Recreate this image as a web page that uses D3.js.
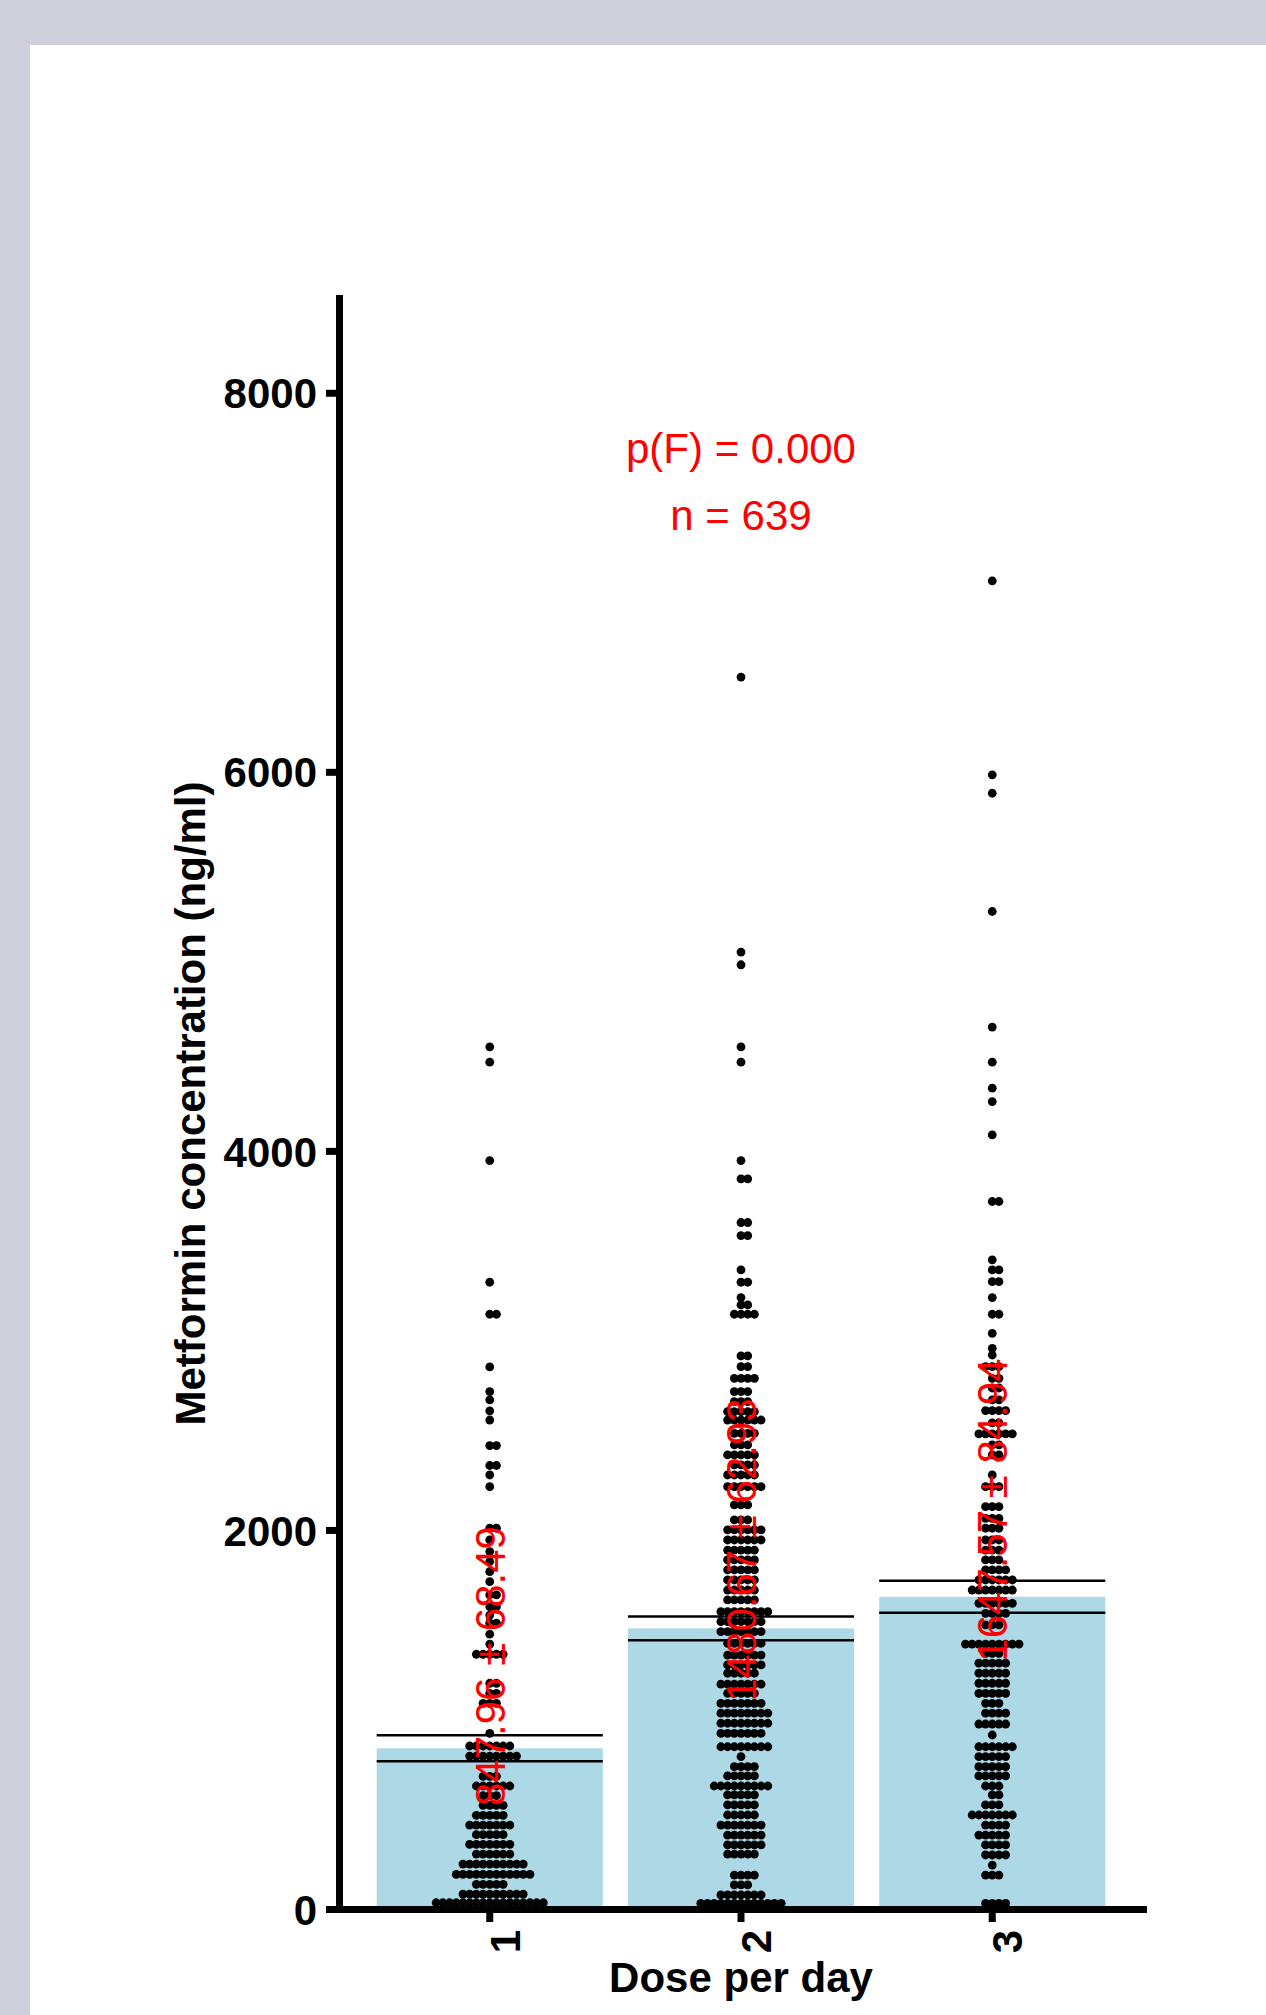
<!DOCTYPE html>
<html>
<head>
<meta charset="utf-8">
<script src="https://cdn.jsdelivr.net/npm/d3@7"></script>
<style>
	html, body { margin: 0; padding: 0; background: #cecfdb; overflow: hidden; }
	#wrapper { position: absolute; left: 30px; top: 45px; width: 1236px; height: 1970px; background: #fff; }
	svg text { font-family: "Liberation Sans", Arial, sans-serif; }
</style>
</head>
<body>
<div id="wrapper"></div>
<script>
const doses = [ '1', '2', '3' ];
const means = [ 847.96, 1480.67, 1647.57 ];
const errors = [ 68.49, 62.93, 84.94 ];
const labelValues = [ 1282, 1894, 2105 ];
const yTicks = [ 0, 2000, 4000, 6000, 8000 ];
const statLines = [ 'p(F) = 0.000', 'n = 639' ];

// dot rows: [concentration, number of dots in the row]
const dose1Dots = [
	[ 4549, 1 ], [ 4468, 1 ], [ 3949, 1 ], [ 3307, 1 ], [ 3138, 2 ], [ 2860, 1 ], [ 2730, 1 ], [ 2686, 1 ],
	[ 2628, 1 ], [ 2580, 1 ], [ 2445, 2 ], [ 2340, 2 ], [ 2290, 1 ], [ 2228, 1 ], [ 2009, 2 ], [ 1947, 1 ],
	[ 1886, 1 ], [ 1833, 1 ], [ 1780, 1 ], [ 1727, 1 ], [ 1657, 2 ], [ 1595, 2 ], [ 1551, 1 ], [ 1508, 2 ],
	[ 1450, 1 ], [ 1398, 1 ], [ 1344, 5 ], [ 1191, 2 ], [ 1138, 2 ], [ 1085, 3 ], [ 927, 1 ], [ 860, 7 ],
	[ 807, 8 ], [ 700, 3 ], [ 649, 6 ], [ 598, 3 ], [ 547, 4 ], [ 494, 5 ], [ 443, 7 ], [ 392, 5 ],
	[ 341, 7 ], [ 290, 6 ], [ 237, 10 ], [ 183, 12 ], [ 130, 5 ], [ 79, 10 ], [ 33, 17 ]
];
const dose2Dots = [
	[ 6500, 1 ], [ 5049, 1 ], [ 4982, 1 ], [ 4549, 1 ], [ 4468, 1 ], [ 3949, 1 ], [ 3852, 2 ], [ 3622, 2 ],
	[ 3553, 2 ], [ 3372, 1 ], [ 3307, 2 ], [ 3226, 1 ], [ 3187, 2 ], [ 3138, 4 ], [ 2918, 2 ], [ 2862, 2 ],
	[ 2800, 4 ], [ 2730, 3 ], [ 2677, 3 ], [ 2624, 5 ], [ 2580, 6 ], [ 2510, 4 ], [ 2449, 3 ], [ 2396, 5 ],
	[ 2343, 4 ], [ 2290, 5 ], [ 2228, 6 ], [ 2132, 3 ], [ 2053, 3 ], [ 2000, 6 ], [ 1947, 6 ], [ 1894, 5 ],
	[ 1842, 5 ], [ 1789, 5 ], [ 1736, 5 ], [ 1683, 5 ], [ 1631, 5 ], [ 1569, 8 ], [ 1516, 7 ], [ 1464, 7 ],
	[ 1402, 6 ], [ 1340, 6 ], [ 1288, 6 ], [ 1244, 5 ], [ 1186, 7 ], [ 1138, 5 ], [ 1085, 7 ], [ 1033, 8 ],
	[ 980, 8 ], [ 927, 7 ], [ 856, 8 ], [ 804, 1 ], [ 751, 4 ], [ 702, 5 ], [ 649, 9 ], [ 602, 5 ],
	[ 549, 5 ], [ 496, 5 ], [ 443, 7 ], [ 390, 6 ], [ 338, 6 ], [ 290, 5 ], [ 179, 4 ], [ 127, 3 ],
	[ 74, 7 ], [ 30, 13 ]
];
const dose3Dots = [
	[ 7008, 1 ], [ 5984, 1 ], [ 5887, 1 ], [ 5263, 1 ], [ 4653, 1 ], [ 4468, 1 ], [ 4331, 1 ], [ 4260, 1 ],
	[ 4084, 1 ], [ 3733, 2 ], [ 3425, 1 ], [ 3372, 2 ], [ 3310, 2 ], [ 3226, 1 ], [ 3138, 2 ], [ 3037, 1 ],
	[ 2958, 1 ], [ 2923, 1 ], [ 2862, 3 ], [ 2800, 2 ], [ 2749, 2 ], [ 2686, 2 ], [ 2630, 4 ], [ 2565, 2 ],
	[ 2507, 6 ], [ 2449, 2 ], [ 2396, 2 ], [ 2290, 1 ], [ 2228, 3 ], [ 2123, 3 ], [ 2061, 3 ], [ 2009, 3 ],
	[ 1947, 3 ], [ 1894, 3 ], [ 1842, 3 ], [ 1789, 4 ], [ 1736, 6 ], [ 1683, 7 ], [ 1613, 6 ], [ 1560, 4 ],
	[ 1499, 3 ], [ 1398, 9 ], [ 1349, 3 ], [ 1297, 5 ], [ 1244, 5 ], [ 1191, 5 ], [ 1138, 5 ], [ 1085, 3 ],
	[ 1033, 4 ], [ 976, 5 ], [ 918, 1 ], [ 856, 6 ], [ 804, 5 ], [ 751, 5 ], [ 702, 5 ], [ 649, 3 ],
	[ 602, 2 ], [ 549, 3 ], [ 496, 7 ], [ 443, 4 ], [ 390, 5 ], [ 338, 4 ], [ 285, 4 ], [ 232, 1 ],
	[ 179, 3 ], [ 30, 4 ]
];

const dimensions = {
	width: 1236,
	height: 1970,
	margin: { top: 253, right: 123, bottom: 106, left: 309 }
};
dimensions.boundedWidth = dimensions.width - dimensions.margin.left - dimensions.margin.right;
dimensions.boundedHeight = dimensions.height - dimensions.margin.top - dimensions.margin.bottom;

const fontSize = 42;
const dotRadius = 4.4;
const dotStep = 6.7;

function drawDoseChart() {
	const groups = doses.map((dose, i) => ({
		dose: dose,
		mean: means[i],
		error: errors[i],
		labelValue: labelValues[i],
		rows: [ dose1Dots, dose2Dots, dose3Dots ][i]
	}));

	const x = d3.scaleBand().domain(doses).range([ 0, dimensions.boundedWidth ]).paddingInner(0.1).paddingOuter(0.15);
	const y = d3.scaleLinear().domain([ 0, 8500 ]).range([ dimensions.boundedHeight, 0 ]);
	const cx = (dose) => x(dose) + x.bandwidth() / 2;

	let svg = d3.select('#wrapper').append('svg').attr('width', dimensions.width).attr('height', dimensions.height);
	let bounds = svg.append('g').attr('transform', `translate(${dimensions.margin.left}, ${dimensions.margin.top})`);

	// bars = group means
	bounds
		.selectAll('rect.bar')
		.data(groups)
		.join('rect')
		.attr('class', 'bar')
		.attr('fill', '#add8e6')
		.attr('x', (d) => x(d.dose))
		.attr('y', (d) => y(d.mean))
		.attr('width', x.bandwidth())
		.attr('height', (d) => y(0) - y(d.mean));

	// mean +/- error lines
	const errLines = groups.flatMap((d) => [
		{ dose: d.dose, value: d.mean + d.error },
		{ dose: d.dose, value: d.mean - d.error }
	]);
	bounds
		.selectAll('line.err')
		.data(errLines)
		.join('line')
		.attr('class', 'err')
		.attr('x1', (d) => x(d.dose))
		.attr('x2', (d) => x(d.dose) + x.bandwidth())
		.attr('y1', (d) => y(d.value))
		.attr('y2', (d) => y(d.value))
		.attr('stroke', '#000')
		.attr('stroke-width', 2.5);

	// dots, stacked centerwhole in each row
	const dots = groups.flatMap((g) =>
		g.rows.flatMap(([ value, count ]) =>
			d3.range(count).map((k) => ({ dose: g.dose, value: value, slot: k - Math.floor((count - 1) / 2) }))
		)
	);
	bounds
		.selectAll('circle')
		.data(dots)
		.join('circle')
		.attr('cx', (d) => cx(d.dose) + d.slot * dotStep)
		.attr('cy', (d) => y(d.value))
		.attr('r', dotRadius)
		.attr('fill', '#000');

	// axes
	const yAxis = bounds
		.append('g')
		.attr('class', 'y-axis')
		.call(d3.axisLeft(y).tickValues(yTicks).tickFormat(d3.format('d')).tickSize(13).tickSizeOuter(0).tickPadding(9));
	const xAxis = bounds
		.append('g')
		.attr('class', 'x-axis')
		.attr('transform', `translate(0, ${dimensions.boundedHeight})`)
		.call(d3.axisBottom(x).tickSize(13).tickSizeOuter(0));

	[ yAxis, xAxis ].forEach((axis) => {
		axis.select('.domain').attr('stroke', '#000').attr('stroke-width', 7).attr('stroke-linecap', 'square');
		axis.selectAll('.tick line').attr('stroke', '#000').attr('stroke-width', 7);
		axis
			.selectAll('.tick text')
			.attr('fill', '#000')
			.style('font-size', fontSize + 'px')
			.style('font-weight', 'bold')
			.style('font-family', '"Liberation Sans", Arial, sans-serif');
	});
	yAxis.selectAll('.tick text').attr('dy', '0.36em');
	xAxis
		.selectAll('.tick text')
		.attr('transform', 'translate(0, 21) rotate(-90)')
		.attr('text-anchor', 'end')
		.attr('x', 0)
		.attr('y', 30)
		.attr('dy', null);

	// axis titles
	bounds
		.append('text')
		.attr('x', dimensions.boundedWidth / 2)
		.attr('y', dimensions.boundedHeight + 83)
		.attr('text-anchor', 'middle')
		.style('font-size', fontSize + 'px')
		.style('font-weight', 'bold')
		.text('Dose per day');

	bounds
		.append('text')
		.attr('transform', `translate(${-134}, ${dimensions.boundedHeight / 2}) rotate(-90)`)
		.attr('text-anchor', 'middle')
		.style('font-size', fontSize + 'px')
		.style('font-weight', 'bold')
		.text('Metformin concentration (ng/ml)');

	// red annotations
	bounds
		.selectAll('text.stat')
		.data(statLines)
		.join('text')
		.attr('class', 'stat')
		.attr('x', dimensions.boundedWidth / 2)
		.attr('y', (d, i) => 165 + i * 67)
		.attr('text-anchor', 'middle')
		.attr('fill', 'red')
		.style('font-size', fontSize + 'px')
		.text((d) => d);

	bounds
		.selectAll('text.mean-label')
		.data(groups)
		.join('text')
		.attr('class', 'mean-label')
		.attr('transform', (d) => `translate(${cx(d.dose)}, ${y(d.labelValue)}) rotate(-90)`)
		.attr('text-anchor', 'middle')
		.attr('y', 15)
		.attr('fill', 'red')
		.style('font-size', fontSize + 'px')
		.text((d) => `${d.mean.toFixed(2)} \u00b1 ${d.error.toFixed(2)}`);
}
drawDoseChart();
</script>
</body>
</html>
